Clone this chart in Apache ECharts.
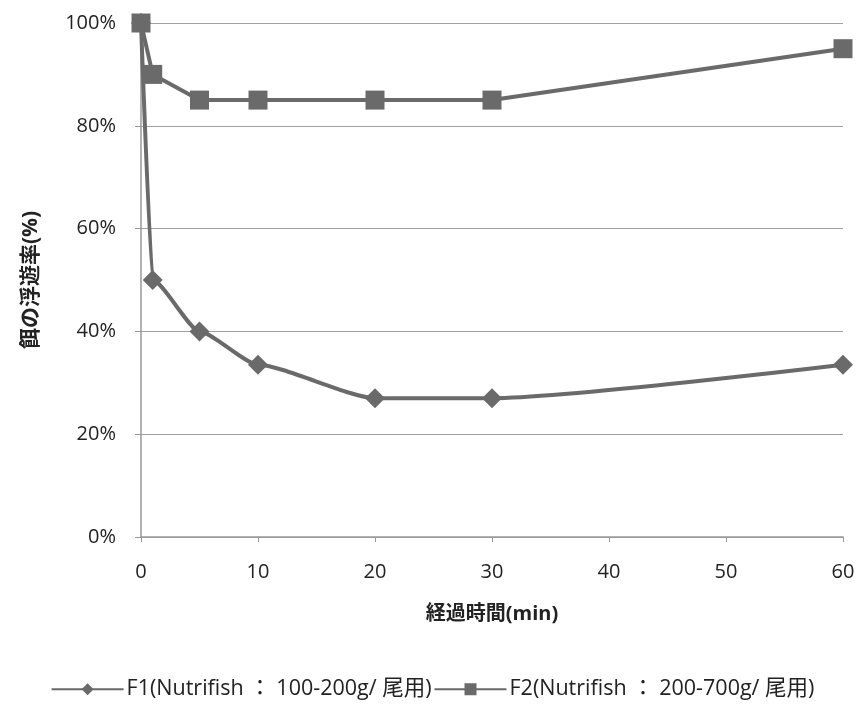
<!DOCTYPE html>
<html><head><meta charset="utf-8">
<script src="https://cdn.jsdelivr.net/npm/echarts@6/dist/echarts.min.js"></script>
<style>html,body{margin:0;padding:0;background:#fff}#c{width:865px;height:711px}</style>
</head><body><div id="c"></div>
<script>
const xMinutes = [0, 1, 5, 10, 20, 30, 60];
const f1Values = [100, 50, 40, 33.5, 27, 27, 33.5];
const f2Values = [100, 90, 85, 85, 85, 85, 95];
const seriesNames = ['F1(Nutrifish \uFF1A 100-200g/ 尾用)', 'F2(Nutrifish \uFF1A 200-700g/ 尾用)'];
const yTitle = '餌の浮遊率(%)';
const xTitle = '経過時間(min)';
const font = '"Open Sans", "Noto Sans CJK JP", sans-serif';
const col = '#6a6a6a';
const chart = echarts.init(document.getElementById('c'));
chart.setOption({
  backgroundColor: '#fff',
  animation: false,
  grid: {left: 141, right: 22, top: 23, bottom: 174},
  legend: {
    bottom: 6, left: 'center', itemGap: 2, itemWidth: 72, itemHeight: 15,
    textStyle: {fontFamily: font, fontSize: 21.5, color: '#222', padding: [0, 0, 0, -2]},
    data: seriesNames
  },
  xAxis: {
    type: 'value', min: 0, max: 60, interval: 10,
    name: xTitle, nameLocation: 'middle', nameGap: 67,
    nameTextStyle: {fontFamily: font, fontSize: 20, fontWeight: 'bold', color: '#222'},
    axisLine: {lineStyle: {color: '#999', width: 1.5}},
    axisTick: {show: true, length: 5, lineStyle: {color: '#999'}},
    axisLabel: {fontFamily: font, fontSize: 20, color: '#222', margin: 25},
    splitLine: {show: false}
  },
  yAxis: {
    type: 'value', min: 0, max: 100, interval: 20,
    name: yTitle, nameLocation: 'middle', nameGap: 99, nameRotate: 90,
    nameTextStyle: {fontFamily: font, fontSize: 21, fontWeight: 'bold', color: '#222'},
    axisLine: {show: true, lineStyle: {color: '#999', width: 1.5}},
    axisTick: {show: true, length: 6, lineStyle: {color: '#999'}},
    axisLabel: {fontFamily: font, fontSize: 20, color: '#222', margin: 25, formatter: v => v + '%'},
    splitLine: {lineStyle: {color: '#a0a0a0', width: 1.2}}
  },
  series: [
    {
      name: seriesNames[0], type: 'line', smooth: 0.2, smoothMonotone: 'x',
      data: xMinutes.map((x, i) => [x, f1Values[i]]),
      symbol: 'diamond', symbolSize: 20,
      lineStyle: {color: col, width: 4}, itemStyle: {color: col}
    },
    {
      name: seriesNames[1], type: 'line', smooth: false,
      data: xMinutes.map((x, i) => [x, f2Values[i]]),
      symbol: 'rect', symbolSize: 19,
      lineStyle: {color: col, width: 4}, itemStyle: {color: col}
    }
  ]
});
</script></body></html>
